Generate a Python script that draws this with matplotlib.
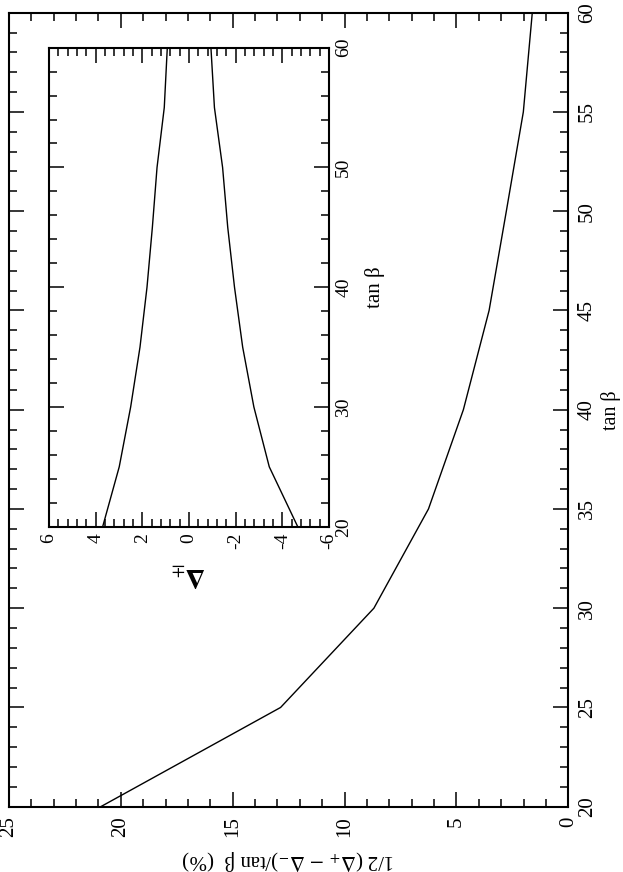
import matplotlib
matplotlib.use('Agg')
import matplotlib.pyplot as plt
from matplotlib.ticker import MultipleLocator

# data (figure is drawn turned 90 degrees: tan(beta) runs upward)
tanb = [20, 25, 30, 35, 40, 45, 50, 55, 60]
asym_pct = [20.9, 12.86, 8.69, 6.25, 4.69, 3.54, 2.77, 2.01, 1.61]
delta_plus = [3.70, 2.99, 2.50, 2.10, 1.80, 1.57, 1.37, 1.06, 0.93]
delta_minus = [-4.66, -3.44, -2.78, -2.30, -1.95, -1.66, -1.44, -1.09, -0.94]

plt.rcParams['font.family'] = ['Liberation Serif', 'DejaVu Serif']
plt.rcParams['mathtext.fontset'] = 'stix'
plt.rcParams['axes.unicode_minus'] = False
plt.rcParams['axes.linewidth'] = 1.5

W, H = 623, 872
fig = plt.figure(figsize=(W/100, H/100), dpi=100)

def setup(ax, xmaj, xmin, ymaj, ymin, fs, pad):
	ax.xaxis.set_major_locator(MultipleLocator(xmaj))
	ax.xaxis.set_minor_locator(MultipleLocator(xmin))
	ax.yaxis.set_major_locator(MultipleLocator(ymaj))
	ax.yaxis.set_minor_locator(MultipleLocator(ymin))
	ax.tick_params(which='both', direction='in', top=True, bottom=True,
	               left=True, right=True, labelleft=False, labelright=True,
	               width=1.1, labelsize=fs, pad=pad)
	ax.tick_params(which='major', length=11)
	ax.tick_params(which='minor', length=5.5)
	ax.tick_params(axis='both', labelrotation=90)
	for lbl in ax.get_yticklabels():
		lbl.set_va('center')

#-----------main plot-----------
ax = fig.add_axes([9/W, 1-806.7/H, (568.3-9)/W, (806.7-12.7)/H])
ax.plot(asym_pct, tanb, color='black', lw=1.0)
ax.set_xlim(25, 0)
ax.set_ylim(20, 60)
setup(ax, 5, 1, 5, 1, 15, 7)
ax.yaxis.set_label_position('right')
ax.set_ylabel('tan β', fontsize=14.5, rotation=90, labelpad=3)
ax.set_xlabel(r'1/2 ($\mathrm{\Delta}_{+}$ $-$ $\mathrm{\Delta}_{-}$)/tan β  (%)',
              fontsize=15, rotation=180, labelpad=8)

#-----------inset-----------
ax2 = fig.add_axes([49/W, 1-526.7/H, 280/W, (526.7-47.7)/H])
ax2.plot(delta_plus, tanb, color='black', lw=1.0)
ax2.plot(delta_minus, tanb, color='black', lw=1.0)
ax2.set_xlim(6, -6)
ax2.set_ylim(20, 60)
setup(ax2, 2, 0.4, 10, 2, 14, 4.5)
ax2.yaxis.set_label_position('right')
ax2.set_ylabel('tan β', fontsize=15, rotation=90, labelpad=9)
ax2.set_xlabel(r'$\mathbf{\Delta}_{\pm}$', fontsize=20, rotation=180, labelpad=8)

fig.savefig('out.png', dpi=100)
